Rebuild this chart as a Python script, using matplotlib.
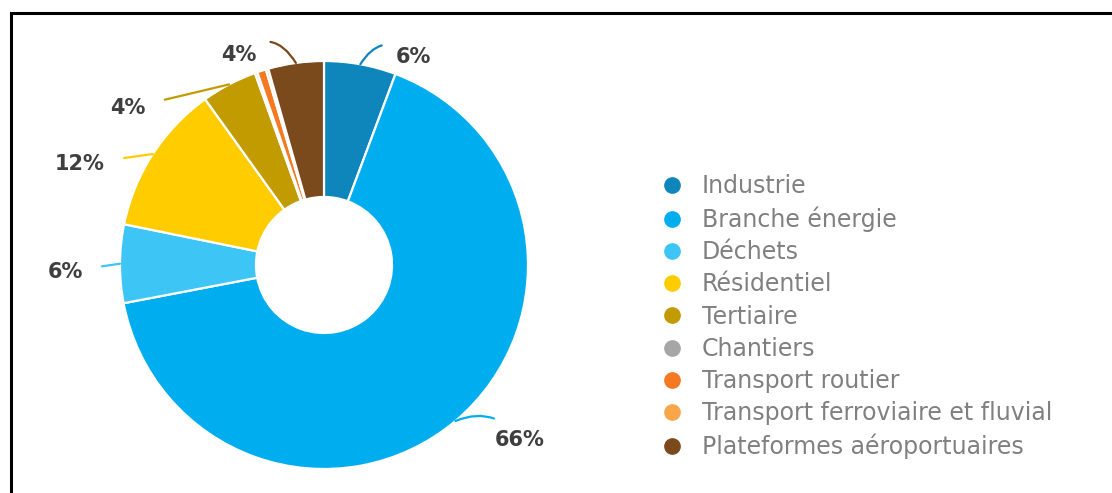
import matplotlib
matplotlib.use("Agg")
import numpy as np
import matplotlib.pyplot as plt
from matplotlib.lines import Line2D

# Emission shares by sector (%)
sectors = [
    "Industrie",
    "Branche énergie",
    "Déchets",
    "Résidentiel",
    "Tertiaire",
    "Chantiers",
    "Transport routier",
    "Transport ferroviaire et fluvial",
    "Plateformes aéroportuaires",
]
shares = [5.7, 66.3, 6.2, 11.9, 4.4, 0.2, 0.7, 0.2, 4.4]
colors = ["#0E86BC", "#00AEEF", "#3DC5F5", "#FFCC00", "#C19B00",
          "#A6A6A6", "#F47920", "#F9A54A", "#7A4A1C"]

# Which wedges get a percentage label, and where the label sits
# relative to the wedge's outer midpoint (pixels)
labelled = [0, 1, 2, 3, 4, 8]
label_offsets = {0: (53, 7), 1: (64, -19), 2: (-55, -8),
                 3: (-73, -10), 4: (-101, -24), 8: (-57, 8)}
leader_rad = {0: 0.6, 1: 0.4, 2: 0.0, 3: 0.0, 4: 0.0, 8: -0.6}
leader_gap = {0: 8, 1: 12, 2: 12, 3: 12, 4: 12, 8: 8}

W, H = 1112, 493
fig = plt.figure(figsize=(W / 100, H / 100), dpi=100)
ax = fig.add_axes([0, 0, 1, 1])

cx, cy, R = 324, 228, 204
hole = 68
wedges, _ = ax.pie(shares, colors=colors, startangle=90, counterclock=False,
                   center=(cx, cy), radius=R,
                   wedgeprops=dict(width=R - hole, edgecolor="white", linewidth=1.6))
ax.set_xlim(0, W)
ax.set_ylim(0, H)
ax.set_aspect("equal")
ax.axis("off")

for i in labelled:
    w = wedges[i]
    mid = np.deg2rad((w.theta1 + w.theta2) / 2)
    ex, ey = cx + R * np.cos(mid), cy + R * np.sin(mid)
    dx, dy = label_offsets[i]
    ax.annotate(f"{round(shares[i])}%", xy=(ex, ey), xytext=(ex + dx, ey + dy),
                ha="center", va="center", fontsize=15, fontweight="bold",
                color="#3F3F3F",
                arrowprops=dict(arrowstyle="-", color=colors[i], lw=1.6,
                                shrinkA=leader_gap[i], shrinkB=0,
                                connectionstyle=f"arc3,rad={leader_rad[i]}"))

handles = [Line2D([0], [0], marker="o", linestyle="none", markersize=11,
                  markerfacecolor=c, markeredgecolor=c) for c in colors]
leg = ax.legend(handles, sectors, loc="upper left",
                bbox_to_anchor=(660 / W, 1 - 174 / H), bbox_transform=fig.transFigure,
                frameon=False, fontsize=17, labelspacing=0.35,
                handlelength=1.0, handletextpad=0.77, borderpad=0,
                borderaxespad=0)
for t in leg.get_texts():
    t.set_color("#808080")

# Frame lines along the top and left edges
fig.add_artist(Line2D([11 / W, 1], [1 - 13 / H, 1 - 13 / H], color="black",
                      lw=2.2, transform=fig.transFigure))
fig.add_artist(Line2D([11 / W, 11 / W], [0, 1 - 13 / H], color="black",
                      lw=2.2, transform=fig.transFigure))

fig.savefig("out.png", dpi=100, facecolor="white")
